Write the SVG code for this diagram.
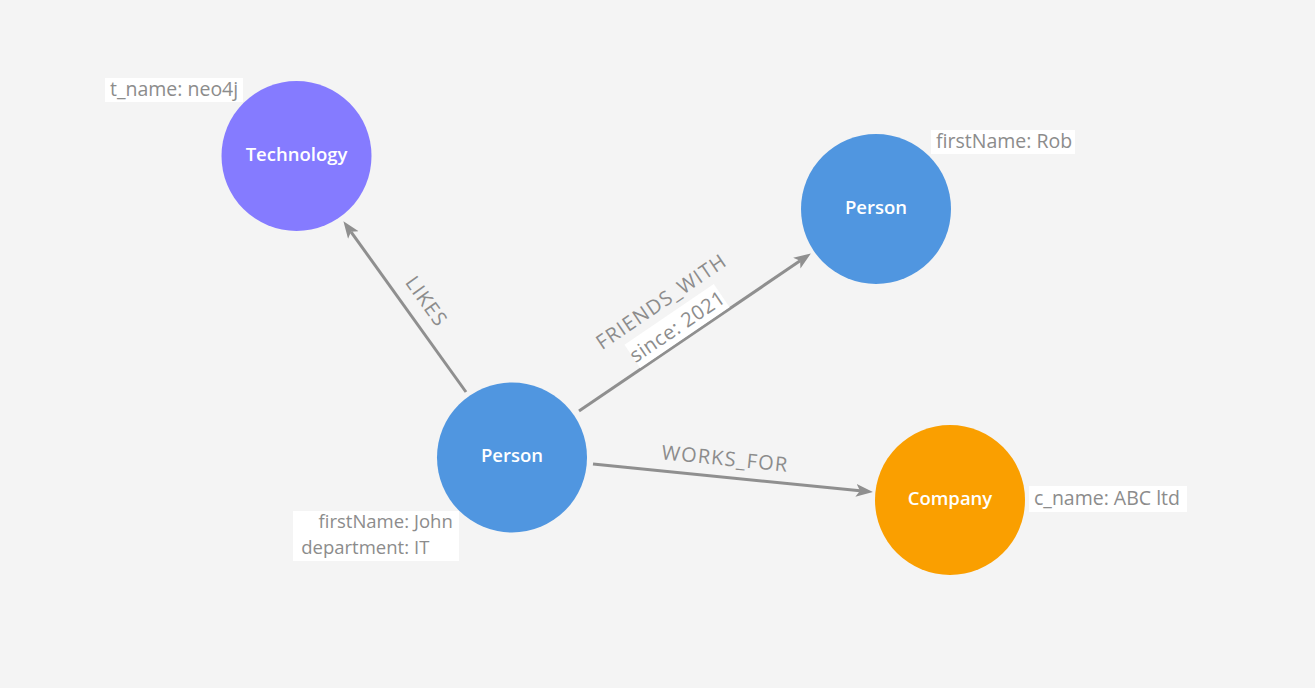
<svg xmlns="http://www.w3.org/2000/svg" width="1315" height="688" viewBox="0 0 1315 688">
<style>
.node-label{font-family:"Open Sans","Noto Sans",sans-serif;font-size:18.5px;font-weight:600;fill:#ffffff;text-anchor:middle;dominant-baseline:central}
.prop{font-family:"Open Sans","Noto Sans",sans-serif;font-size:19.5px;fill:#8c8c8c}
.prop2{font-family:"Open Sans","Noto Sans",sans-serif;font-size:18.5px;fill:#8c8c8c}
.rel{font-family:"Open Sans","Noto Sans",sans-serif;font-size:20px;letter-spacing:1.2px;fill:#8c8c8c;text-anchor:middle;dominant-baseline:central}
.relprop{font-family:"Open Sans","Noto Sans",sans-serif;font-size:20px;letter-spacing:0.6px;fill:#8c8c8c;text-anchor:middle;dominant-baseline:central}
.box{fill:#ffffff}
.edge{stroke:#8f8f8f;stroke-width:3;fill:none}
</style>
<defs>
<marker id="arrow" markerUnits="userSpaceOnUse" markerWidth="18" markerHeight="14" refX="4" refY="6.5" orient="auto">
<path d="M0,0 L17,6.5 L0,13 L4,6.5 z" fill="#8f8f8f"/>
</marker>
</defs>
<rect x="0" y="0" width="1315" height="688" fill="#f4f4f4"/>
<g id="connectors">
<g id="e-likes">
<line class="edge" x1="466" y1="392" x2="351" y2="231.8" marker-end="url(#arrow)"/>
<text class="rel" transform="translate(427,301) rotate(54.3)">LIKES</text>
</g>
<g id="e-friends">
<line class="edge" x1="579" y1="411" x2="800.1" y2="260.8" marker-end="url(#arrow)"/>
<text class="rel" transform="translate(661,301) rotate(-34.2)">FRIENDS_WITH</text>
<g transform="translate(677,326) rotate(-34.2)">
<rect class="box" x="-54" y="-14" width="108" height="28"/>
<text class="relprop" x="0" y="0">since: 2021</text>
</g>
</g>
<g id="e-works">
<line class="edge" x1="593" y1="464" x2="860" y2="490.8" marker-end="url(#arrow)"/>
<text class="rel" transform="translate(725,458) rotate(5.7)">WORKS_FOR</text>
</g>
</g>
<g id="n-technology">
<circle cx="296.5" cy="156" r="75" fill="#857bff"/>
<text class="node-label" x="296.5" y="153.5">Technology</text>
<rect class="box" x="105" y="78" width="138" height="24"/>
<text class="prop" x="110" y="96">t_name: neo4j</text>
</g>
<g id="n-rob">
<circle cx="876" cy="209" r="75" fill="#5096e0"/>
<text class="node-label" x="876" y="206.5">Person</text>
<rect class="box" x="931" y="130" width="144" height="24"/>
<text class="prop" x="936" y="148">firstName: Rob</text>
</g>
<g id="n-john">
<circle cx="512" cy="457.5" r="75" fill="#5096e0"/>
<text class="node-label" x="512" y="454.5">Person</text>
<rect class="box" x="293" y="511" width="166" height="50"/>
<text class="prop2"><tspan x="409" y="528" text-anchor="end">firstName:</tspan><tspan x="414" y="528">John</tspan><tspan x="409" y="554" text-anchor="end">department:</tspan><tspan x="414" y="554">IT</tspan></text>
</g>
<g id="n-company">
<circle cx="950" cy="500" r="75" fill="#fa9f00"/>
<text class="node-label" x="950" y="497.5">Company</text>
<rect class="box" x="1029" y="486" width="158" height="26"/>
<text class="prop" x="1034" y="505">c_name: ABC ltd</text>
</g>
</svg>
